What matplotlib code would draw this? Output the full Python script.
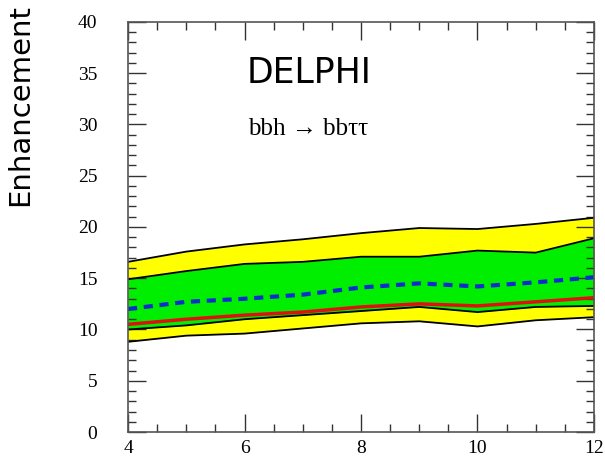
import matplotlib
import matplotlib.pyplot as plt
from matplotlib.ticker import MultipleLocator

matplotlib.use('Agg')

# mass points and limit bands
mass = [4, 5, 6, 7, 8, 9, 10, 11, 12]
yellow_hi = [16.6, 17.6, 18.3, 18.8, 19.4, 19.9, 19.8, 20.3, 20.9]
green_hi = [14.9, 15.7, 16.4, 16.6, 17.1, 17.1, 17.7, 17.5, 18.9]
expected = [12.0, 12.7, 13.0, 13.4, 14.1, 14.5, 14.2, 14.6, 15.1]
observed = [10.5, 11.0, 11.4, 11.7, 12.2, 12.5, 12.3, 12.7, 13.1]
green_lo = [10.0, 10.4, 11.0, 11.4, 11.8, 12.2, 11.7, 12.2, 12.3]
yellow_lo = [8.8, 9.4, 9.6, 10.1, 10.6, 10.8, 10.3, 10.9, 11.2]

fig = plt.figure(figsize=(6.05, 4.61), dpi=100)
ax = fig.add_axes([0.2116, 0.0629, 0.9818 - 0.2116, 0.9523 - 0.0629])

ax.fill_between(mass, yellow_lo, yellow_hi, color='#ffff00', lw=0)
ax.fill_between(mass, green_lo, green_hi, color='#00ee00', lw=0)
for edge in [yellow_hi, green_hi, green_lo, yellow_lo]:
    ax.plot(mass, edge, color='black', lw=1.3)
ax.plot(mass, expected, color='#0a2ecc', lw=3, ls=(0, (2.2, 1.6)))
ax.plot(mass, observed, color='#e01010', lw=2.5)

ax.set_xlim(4, 12)
ax.set_ylim(0, 40)
ax.xaxis.set_major_locator(MultipleLocator(2))
ax.xaxis.set_minor_locator(MultipleLocator(0.5))
ax.yaxis.set_major_locator(MultipleLocator(5))
ax.yaxis.set_minor_locator(MultipleLocator(1))
ax.tick_params(which='both', direction='in', top=True, right=True, color='#333333')
ax.tick_params(which='major', length=13, width=1)
ax.tick_params(which='minor', length=6, width=1)
ax.tick_params(axis='y', which='major', pad=22)
ax.tick_params(axis='x', which='major', pad=6)
for lab in ax.get_xticklabels() + ax.get_yticklabels():
    lab.set_fontfamily('Liberation Serif')
    lab.set_fontsize(14)
for sp in ax.spines.values():
    sp.set_color('#555555')
    sp.set_linewidth(1.2)

ax.text(7.1, 35.0, 'DELPHI', fontsize=25, ha='center', va='center',
        family='DejaVu Sans')
ax.text(7.1, 29.6, 'bbh \u2192 bb\u03c4\u03c4', fontsize=18, ha='center', va='center',
        family=['Liberation Serif', 'DejaVu Serif'])

fig.text(0.033, 0.772, 'Enhancement', rotation=90, fontsize=21,
         ha='center', va='center', family='DejaVu Sans')

fig.savefig('out.png', dpi=100)
